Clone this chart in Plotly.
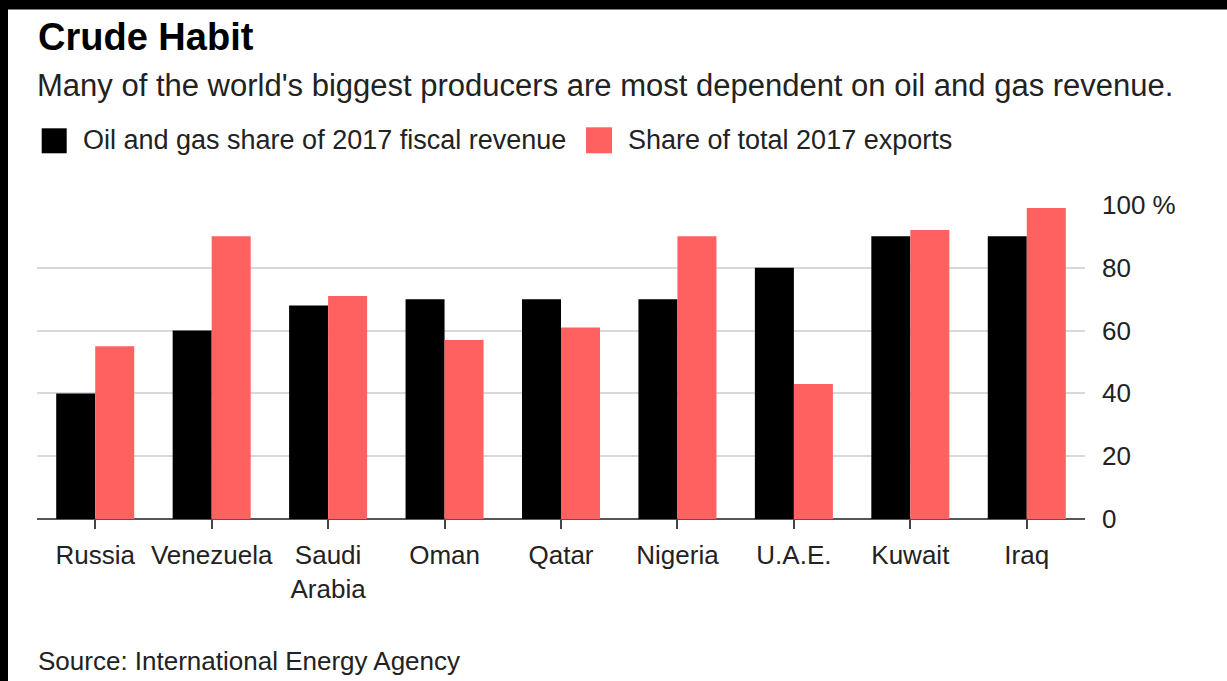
import plotly.graph_objects as go

countries = ["Russia", "Venezuela", "Saudi<br>Arabia", "Oman", "Qatar", "Nigeria", "U.A.E.", "Kuwait", "Iraq"]
fiscal_share = [40, 60, 68, 70, 70, 70, 80, 90, 90]
export_share = [55, 90, 71, 57, 61, 90, 43, 92, 99]
y_ticks = [0, 20, 40, 60, 80, 100]
y_tick_labels = ["0", "20", "40", "60", "80", "100 %"]

series_names = ["Oil and gas share of 2017 fiscal revenue", "Share of total 2017 exports"]
BLACK = "#000000"
RED = "#ff6161"
FONT = "Liberation Sans, Arial, sans-serif"
TXT = "#222222"

W, H = 1227, 681
L, R, T, B = 37, 142, 204, 162
PW = W - L - R
PH = H - T - B


def xp(px):
    return (px - L) / PW


def yp(py):
    return (H - B - py) / PH


fig = go.Figure()
fig.add_trace(go.Bar(x=countries, y=fiscal_share, name=series_names[0], marker_color=BLACK,
                     marker_line_width=0, showlegend=False))
fig.add_trace(go.Bar(x=countries, y=export_share, name=series_names[1], marker_color=RED,
                     marker_line_width=0, showlegend=False))

shapes = [
    # black frame strips at top and left of the picture
    dict(type="rect", xref="paper", yref="paper", x0=xp(0), x1=xp(W), y0=yp(9.5), y1=yp(0),
         fillcolor="black", line_width=0, layer="above"),
    dict(type="rect", xref="paper", yref="paper", x0=xp(0), x1=xp(8), y0=yp(H), y1=yp(0),
         fillcolor="black", line_width=0, layer="above"),
    # legend keys
    dict(type="rect", xref="paper", yref="paper", x0=xp(41.7), x1=xp(66.7), y0=yp(153.3), y1=yp(128.3),
         fillcolor=BLACK, line_width=0),
    dict(type="rect", xref="paper", yref="paper", x0=xp(586), x1=xp(612), y0=yp(153.3), y1=yp(127.3),
         fillcolor=RED, line_width=0),
]

annotations = [
    dict(text="<b>Crude Habit</b>", x=xp(36), y=yp(36.7), font=dict(size=38, color="#000000", family=FONT)),
    dict(text="Many of the world's biggest producers are most dependent on oil and gas revenue.",
         x=xp(35), y=yp(85), font=dict(size=31, color=TXT, family=FONT)),
    dict(text=series_names[0], x=xp(81), y=yp(139.5), font=dict(size=27, color=TXT, family=FONT)),
    dict(text=series_names[1], x=xp(626), y=yp(139.5), font=dict(size=27, color=TXT, family=FONT)),
    dict(text="Source: International Energy Agency", x=xp(36), y=yp(661), font=dict(size=26, color=TXT, family=FONT)),
]
for a in annotations:
    a.update(xref="paper", yref="paper", xanchor="left", yanchor="middle", showarrow=False)

fig.update_layout(
    width=W, height=H,
    margin=dict(l=L, r=R, t=T, b=B, pad=0),
    paper_bgcolor="white", plot_bgcolor="white",
    barmode="group", bargap=0.33, bargroupgap=0,
    shapes=shapes, annotations=annotations,
    font=dict(family=FONT, size=26, color=TXT),
    xaxis=dict(
        tickfont=dict(size=26, color=TXT, family=FONT),
        ticks="outside", ticklen=9, tickwidth=1.5, tickcolor="#444444",
        ticklabelstandoff=4,
        showline=False, showgrid=False, zeroline=False, range=[-0.5, 8.5],
    ),
    yaxis=dict(
        side="right", range=[0, 100.3], tickvals=y_ticks, ticktext=y_tick_labels,
        tickfont=dict(size=26, color=TXT, family=FONT),
        showgrid=True, gridcolor="#d9d9d9", gridwidth=1.5,
        zeroline=True, zerolinecolor="#555555", zerolinewidth=2,
        showline=False, ticks="", ticklabelstandoff=16,
    ),
)

fig.write_html(
    "out.html",
    config={"displayModeBar": False},
    post_script="document.body.style.margin='0';document.body.style.overflow='hidden';",
)
